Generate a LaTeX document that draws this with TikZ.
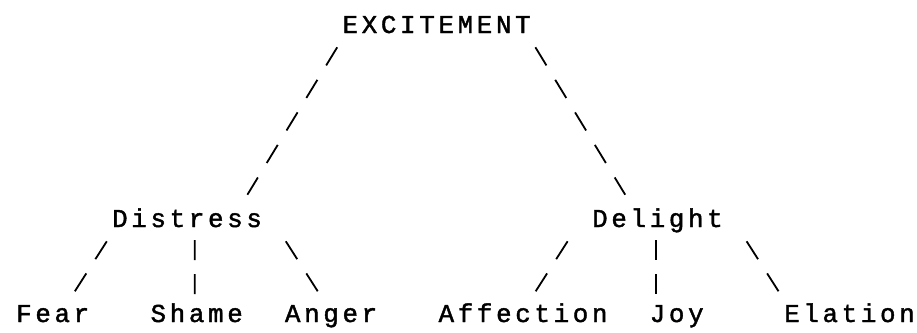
\documentclass[tikz,border=0pt]{standalone}
\usepackage{fontspec}
\usepackage{tikz}
\newfontfamily\printfont{Liberation Mono}[LetterSpace=14.3,FakeBold=1.6]

\begin{document}
\begin{tikzpicture}[x=1pt,y=-1pt,
  word/.style={font=\printfont\fontsize{25.8pt}{30pt}\selectfont,inner sep=0pt,anchor=base west},
  slant/.style={line width=1.8pt,dash pattern=on 21.2pt off 16.9pt},
  upright/.style={line width=1.8pt,dash pattern=on 20pt off 14pt}]
  \path[use as bounding box] (0,0) rectangle (917,332);
  % top row
  \node[word] (exc) at (342.4,33) {EXCITEMENT};
  % middle row
  \node[word] (distress) at (112,227) {Distress};
  \node[word] (delight) at (592,227) {Delight};
  % bottom row
  \node[word] (fear) at (16,322) {Fear};
  \node[word] (shame) at (150.4,322) {Shame};
  \node[word] (anger) at (284.8,322) {Anger};
  \node[word] (affection) at (438.4,322) {Affection};
  \node[word] (joy) at (649.6,322) {Joy};
  \node[word] (elation) at (784,322) {Elation};
  % links
  \draw[slant] ([shift={(-5.2,14.3)}]exc.base west) -- ([shift={(135.4,-32.3)}]distress.base west);
  \draw[slant] ([shift={(193,14.3)}]exc.base west) -- ([shift={(33.2,-32.3)}]delight.base west);
  \draw[slant] ([shift={(-5.2,14.3)}]distress.base west) -- ([shift={(58.6,-30.3)}]fear.base west);
  \draw[upright] ([shift={(82.8,13)}]distress.base west) -- ([shift={(44.4,-28)}]shame.base west);
  \draw[slant] ([shift={(173.8,14.3)}]distress.base west) -- ([shift={(33.2,-30.3)}]anger.base west);
  \draw[slant] ([shift={(-24.4,14.3)}]delight.base west) -- ([shift={(97,-30.3)}]affection.base west);
  \draw[upright] ([shift={(63.6,13)}]delight.base west) -- ([shift={(6,-28)}]joy.base west);
  \draw[slant] ([shift={(154.6,14.3)}]delight.base west) -- ([shift={(-5.2,-30.3)}]elation.base west);
\end{tikzpicture}
\end{document}
